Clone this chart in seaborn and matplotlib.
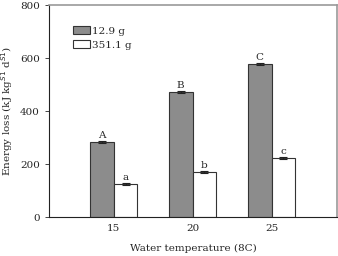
import pandas as pd
import numpy as np
import matplotlib
matplotlib.use('Agg')
import matplotlib.pyplot as plt
import seaborn as sns

temps = ['15', '20', '25']
sizes = ['12.9 g', '351.1 g']
loss_small = [283, 472, 577]
loss_large = [125, 170, 223]
err_small = [3, 3, 3]
err_large = [3, 3, 3]
letters_small = ['A', 'B', 'C']
letters_large = ['a', 'b', 'c']

df = pd.DataFrame({
    'Temp': temps * 2,
    'Size': [sizes[0]] * 3 + [sizes[1]] * 3,
    'Loss': loss_small + loss_large,
})

sns.set_style('ticks')
plt.rcParams['font.family'] = ['DejaVu Serif']

fig = plt.figure(figsize=(3.38, 2.56), dpi=100)
ax = fig.add_axes([0.145, 0.152, 0.852, 0.828])

sns.barplot(data=df, x='Temp', y='Loss', hue='Size', order=temps, hue_order=sizes,
            palette=['#8c8c8c', 'white'], width=0.6, errorbar=None,
            edgecolor='#333333', linewidth=0.8, ax=ax)

xs = np.arange(len(temps))
off = 0.15
ax.errorbar(xs - off, loss_small, yerr=err_small, fmt='none', ecolor='#222222',
            elinewidth=0.8, capsize=3, capthick=0.8)
ax.errorbar(xs + off, loss_large, yerr=err_large, fmt='none', ecolor='#222222',
            elinewidth=0.8, capsize=3, capthick=0.8)
for i in range(len(temps)):
    ax.text(xs[i] - off, loss_small[i] + err_small[i] + 4, letters_small[i],
            ha='center', va='bottom', fontsize=7.5)
    ax.text(xs[i] + off, loss_large[i] + err_large[i] + 4, letters_large[i],
            ha='center', va='bottom', fontsize=7.5)

ax.set_xlim(-0.82, 2.83)
ax.set_ylim(0, 800)
ax.set_yticks([0, 200, 400, 600, 800])
ax.set_xlabel('Water temperature (8C)', fontsize=7.5, labelpad=8)
ax.set_ylabel('Energy loss (kJ kg$^{S1}$ d$^{S1}$)', fontsize=7.5)
ax.tick_params(axis='both', labelsize=7.5, length=3, width=0.6)
ax.tick_params(axis='x', length=0, pad=5)

for side in ['top', 'right']:
    ax.spines[side].set_color('#999999')
    ax.spines[side].set_linewidth(1.2)
for side in ['left', 'bottom']:
    ax.spines[side].set_color('#222222')
    ax.spines[side].set_linewidth(0.8)

ax.legend(loc='upper left', bbox_to_anchor=(0.07, 0.92), frameon=False, fontsize=7.5,
          handlelength=1.6, handleheight=0.8, handletextpad=0.2, labelspacing=0.4,
          borderaxespad=0)

fig.savefig('out.png', dpi=100)
